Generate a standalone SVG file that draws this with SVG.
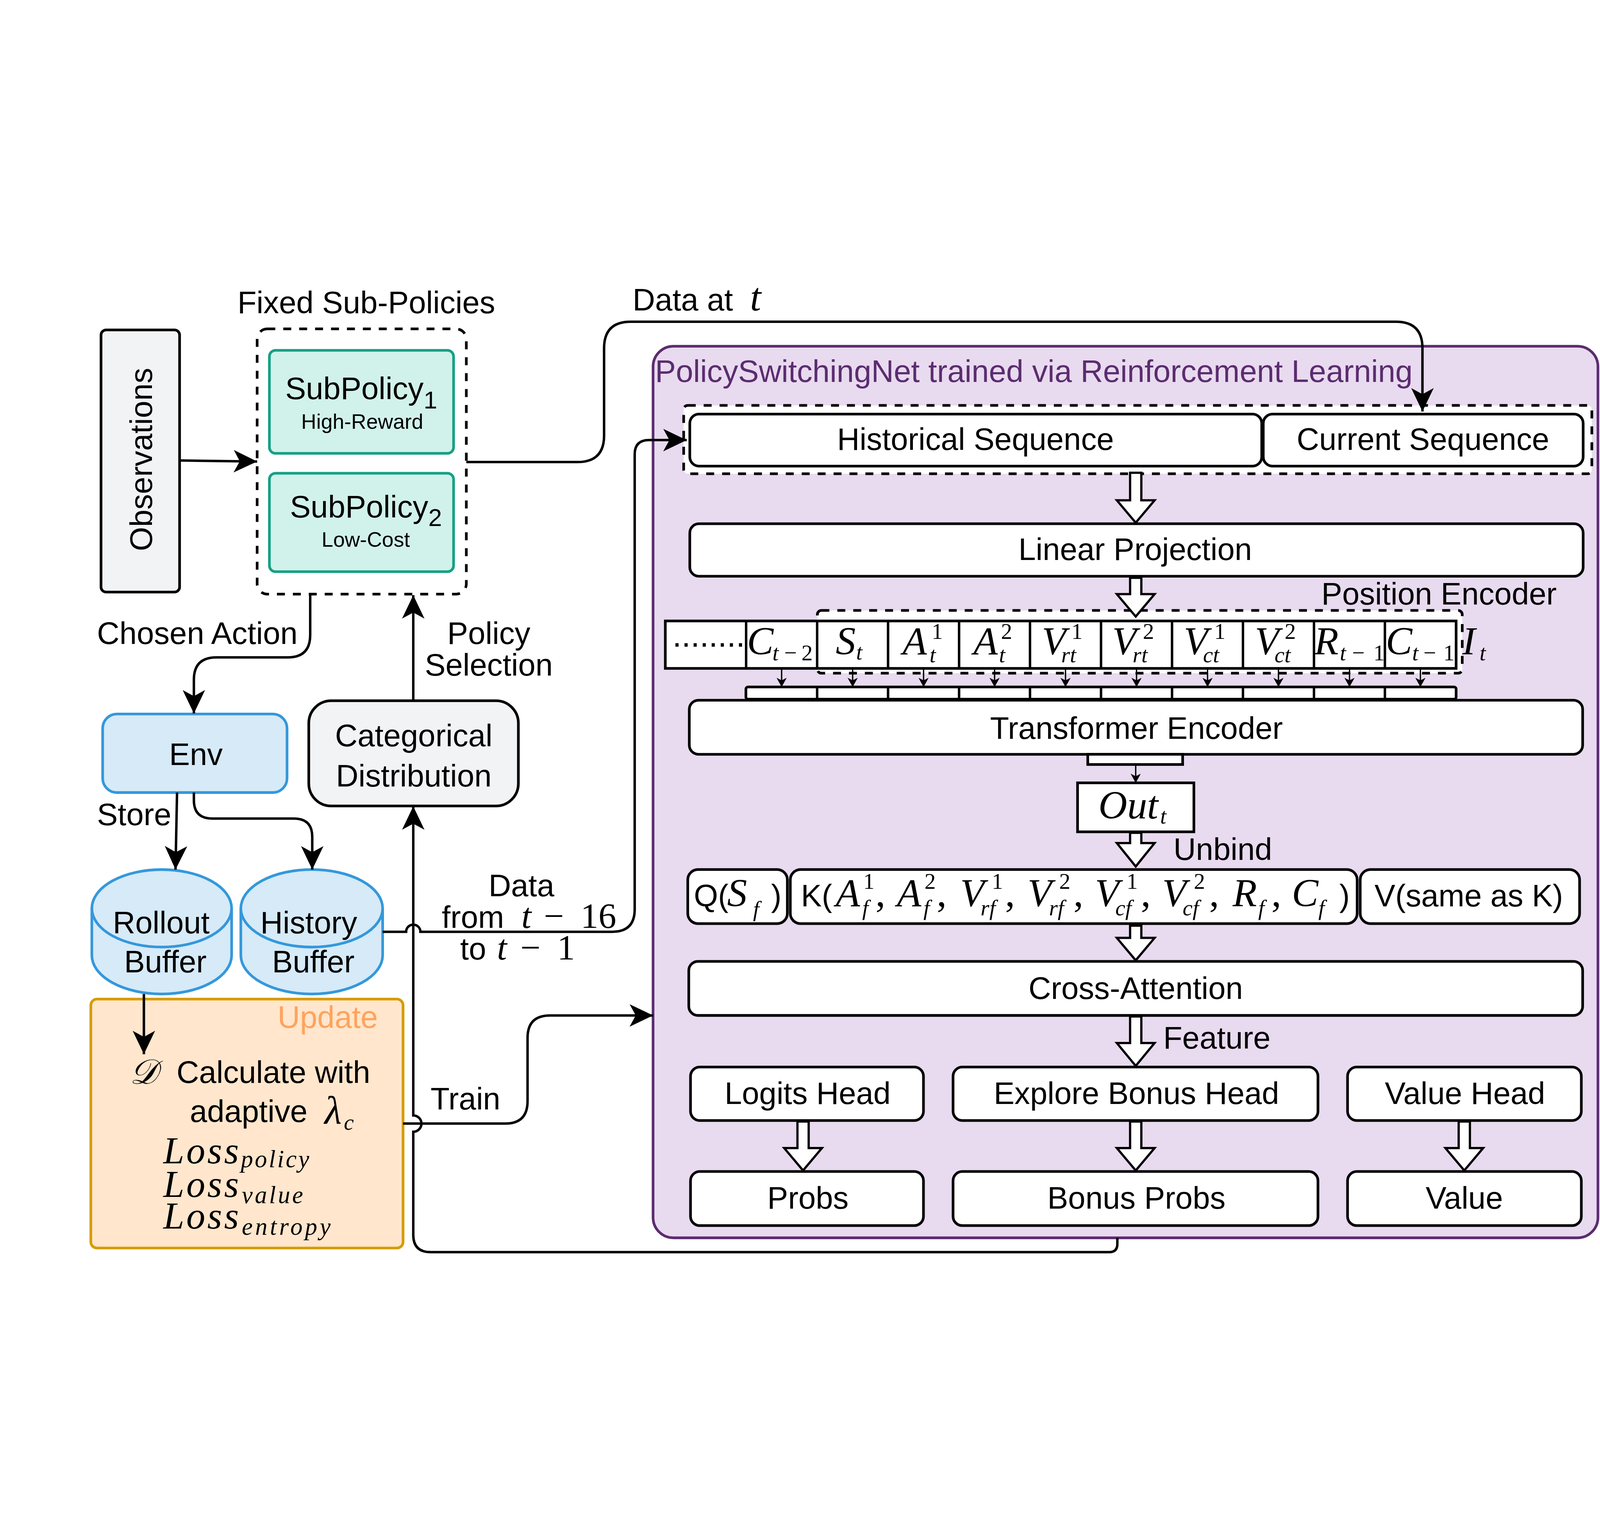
<svg xmlns="http://www.w3.org/2000/svg" width="6090" height="3900" viewBox="0 0 6090 3900">
<defs>
<style>
:root{background:#fff}
@media (max-width: 6080px), (max-height: 3890px){ :root{width:100vw;height:100vh} }
.s{font-family:"Liberation Sans",Arial,sans-serif;font-size:30.5px;fill:#000}
.mid{text-anchor:middle}
.sm{font-size:20.5px}
.sp{font-size:24px}
.m{font-family:"Liberation Serif","Times New Roman",serif;font-style:italic;font-size:39px;fill:#000}
.r{font-family:"Liberation Serif","Times New Roman",serif;font-style:normal;font-size:39px;fill:#000}
.sb{font-size:22px}
.lbl{font-size:35px}
.box{fill:#fff;stroke:#000;stroke-width:2.6}
.dash{fill:#fff;stroke:#000;stroke-width:2.6;stroke-dasharray:7.8 7.8}
.ln{fill:none;stroke:#000;stroke-width:2.4}
.sl{fill:none;stroke:#000;stroke-width:1.3}
.ha{fill:#fff;stroke:#000;stroke-width:2.2;stroke-linejoin:miter}
.gray{fill:#f2f3f4;stroke:#000;stroke-width:2.6}
.teal{fill:#d1f2eb;stroke:#16a085;stroke-width:2.6}
.blue{fill:#d6eaf8;stroke:#3498db;stroke-width:2.6}
</style>
<marker id="ah" viewBox="0 0 23 22" refX="23" refY="11" markerWidth="23" markerHeight="22" markerUnits="userSpaceOnUse" orient="auto">
<path d="M0,0 L23,11 L0,22 L6,11 Z" fill="#000"/>
</marker>
<marker id="sah" viewBox="0 0 9 10" refX="9" refY="5" markerWidth="9" markerHeight="10" markerUnits="userSpaceOnUse" orient="auto">
<path d="M0,0 L9,5 L0,10 L2.5,5 Z" fill="#000"/>
</marker>
</defs>
<rect width="6090" height="3900" fill="#fff"/>
<g transform="scale(3.88393)">

<g id="policy-switching-net">
<rect x="640" y="95" width="926" height="874" rx="20" fill="#e8daef" stroke="#5b2c6f" stroke-width="2.6"/>
<text class="s" x="642" y="130" style="fill:#5b2c6f">PolicySwitchingNet trained via Reinforcement Learning</text>
</g>

<g id="observations">
<rect x="99" y="79" width="77" height="257" rx="5" class="gray"/>
<text class="s mid" transform="translate(149,206) rotate(-90)">Observations</text>
</g>

<g id="fixed-sub-policies">
<rect x="252" y="78" width="205" height="260" rx="10" class="dash"/>
<text class="s mid" x="359" y="62.5">Fixed Sub-Policies</text>
</g>

<g id="subpolicy1">
<rect x="264" y="99" width="180.5" height="101" rx="6" class="teal"/>
<text class="s mid" x="354" y="147">SubPolicy<tspan class="sp" dy="9">1</tspan></text>
<text class="s mid sm" x="355" y="176">High-Reward</text>
</g>

<g id="subpolicy2">
<rect x="264" y="219.5" width="180.5" height="96.5" rx="6" class="teal"/>
<text class="s mid" x="358.6" y="262.8">SubPolicy<tspan class="sp" dy="8.5">2</tspan></text>
<text class="s mid sm" x="358.4" y="291.5">Low-Cost</text>
</g>

<g id="env">
<rect x="100.6" y="455.5" width="180.7" height="77" rx="14" class="blue"/>
<text class="s mid" x="192" y="505.5">Env</text>
</g>

<g id="categorical-distribution">
<rect x="302.6" y="442.5" width="205.4" height="103.2" rx="22" class="gray"/>
<text class="s mid" x="405.5" y="487">Categorical</text>
<text class="s mid" x="405.5" y="526.5">Distribution</text>
</g>

<g id="rollout-buffer">
<path d="M90,646 A68.5,38 0 0 1 227,646 V692 A68.5,38 0 0 1 90,692 Z" class="blue"/>
<path d="M90,646 A68.5,38 0 0 0 227,646" fill="none" stroke="#3498db" stroke-width="2.6"/>
<text class="s mid" x="158" y="670.5">Rollout</text>
<text class="s mid" x="162" y="708.6">Buffer</text>
</g>

<g id="history-buffer">
<path d="M236,646 A69.5,38 0 0 1 375,646 V692 A69.5,38 0 0 1 236,692 Z" class="blue"/>
<path d="M236,646 A69.5,38 0 0 0 375,646" fill="none" stroke="#3498db" stroke-width="2.6"/>
<text class="s mid" x="302.6" y="670.5">History</text>
<text class="s mid" x="307" y="708.6">Buffer</text>
</g>

<g id="update">
<rect x="89" y="735" width="306" height="244" rx="6" fill="#ffe6cc" stroke="#d79b00" stroke-width="2.6"/>
<text class="s" x="272" y="763" style="fill:#ffa35c">Update</text>
<text x="127" y="818" style="font-family:'DejaVu Serif','Liberation Serif',serif;font-style:italic;font-size:34px">𝒟</text>
<text class="s" x="173" y="817">Calculate with</text>
<text class="s" x="186" y="855.5">adaptive</text>
<text class="m" x="318" y="857">λ</text>
<text class="m sb" x="337" y="863">c</text>
<text class="m" x="160" y="896" style="font-size:37px" textLength="74" lengthAdjust="spacing">Loss</text>
<text class="m" x="236" y="900" style="font-size:24px" textLength="67" lengthAdjust="spacing">policy</text>
<text class="m" x="160" y="929" style="font-size:37px" textLength="74" lengthAdjust="spacing">Loss</text>
<text class="m" x="237" y="935" style="font-size:24px" textLength="60" lengthAdjust="spacing">value</text>
<text class="m" x="160" y="960" style="font-size:37px" textLength="74" lengthAdjust="spacing">Loss</text>
<text class="m" x="237" y="966" style="font-size:24px" textLength="87" lengthAdjust="spacing">entropy</text>
</g>

<g id="sequence-group">
<rect x="670" y="153" width="890" height="67" rx="4" class="dash"/>
</g>
<g id="historical-sequence">
<rect x="676" y="161.5" width="560.5" height="51" rx="9" class="box"/>
<text class="s mid" x="956" y="196.5">Historical Sequence</text>
</g>
<g id="current-sequence">
<rect x="1238" y="161.5" width="313.5" height="51" rx="9" class="box"/>
<text class="s mid" x="1394.5" y="196.5">Current Sequence</text>
</g>

<g id="linear-projection">
<rect x="676" y="269" width="875.5" height="51.5" rx="9" class="box"/>
<text class="s mid" x="1112.5" y="304.6">Linear Projection</text>
</g>

<g id="position-encoder">
<rect x="801" y="354" width="632" height="61.5" rx="4" class="dash"/>
<text class="s" x="1295" y="348.3">Position Encoder</text>
</g>

<g id="token-row">
<rect x="652" y="364.3" width="775" height="46.5" class="box"/>
<g stroke="#000" stroke-width="2.4">
<line x1="731.2" y1="364.3" x2="731.2" y2="410.8"/>
<line x1="800.8" y1="364.3" x2="800.8" y2="410.8"/>
<line x1="870.3" y1="364.3" x2="870.3" y2="410.8"/>
<line x1="939.9" y1="364.3" x2="939.9" y2="410.8"/>
<line x1="1009.4" y1="364.3" x2="1009.4" y2="410.8"/>
<line x1="1079" y1="364.3" x2="1079" y2="410.8"/>
<line x1="1148.6" y1="364.3" x2="1148.6" y2="410.8"/>
<line x1="1218.1" y1="364.3" x2="1218.1" y2="410.8"/>
<line x1="1287.7" y1="364.3" x2="1287.7" y2="410.8"/>
<line x1="1357.2" y1="364.3" x2="1357.2" y2="410.8"/>
</g>
<text class="s" x="659" y="389.5" style="font-size:32px">........</text>
<text class="m" x="732" y="397">C</text><text class="m sb" x="757" y="403">t</text><text class="r sb" x="768.5" y="403">−</text><text class="r sb" x="785.4" y="403">2</text>
<text class="m" x="819" y="397">S</text><text class="m sb" x="839" y="402">t</text>
<text class="m" x="884.5" y="397">A</text><text class="r sb" x="913" y="382">1</text><text class="m sb" x="911" y="405">t</text>
<text class="m" x="954" y="397">A</text><text class="r sb" x="981" y="382">2</text><text class="m sb" x="979" y="405">t</text>
<text class="m" x="1021" y="397">V</text><text class="r sb" x="1050" y="382">1</text><text class="m sb" x="1040" y="405">rt</text>
<text class="m" x="1090" y="397">V</text><text class="r sb" x="1120" y="382">2</text><text class="m sb" x="1110" y="405">rt</text>
<text class="m" x="1160" y="397">V</text><text class="r sb" x="1190" y="382">1</text><text class="m sb" x="1179" y="405">ct</text>
<text class="m" x="1229.7" y="397">V</text><text class="r sb" x="1259" y="382">2</text><text class="m sb" x="1249" y="405">ct</text>
<text class="m" x="1288" y="397">R</text><text class="m sb" x="1313" y="403">t</text><text class="r sb" x="1325" y="403">−</text><text class="r sb" x="1346" y="403">1</text>
<text class="m" x="1358" y="397">C</text><text class="m sb" x="1384" y="403">t</text><text class="r sb" x="1395" y="403">−</text><text class="r sb" x="1414.5" y="403">1</text>
<text class="m" x="1433" y="397">I</text><text class="m sb" x="1450" y="403">t</text>
</g>

<g id="embedding-row">
<rect x="731" y="429" width="696" height="12" rx="2" class="box"/>
<g stroke="#000" stroke-width="2.4">
<line x1="800.8" y1="429" x2="800.8" y2="441"/>
<line x1="870.3" y1="429" x2="870.3" y2="441"/>
<line x1="939.9" y1="429" x2="939.9" y2="441"/>
<line x1="1009.4" y1="429" x2="1009.4" y2="441"/>
<line x1="1079" y1="429" x2="1079" y2="441"/>
<line x1="1148.6" y1="429" x2="1148.6" y2="441"/>
<line x1="1218.1" y1="429" x2="1218.1" y2="441"/>
<line x1="1287.7" y1="429" x2="1287.7" y2="441"/>
<line x1="1357.2" y1="429" x2="1357.2" y2="441"/>
</g>
</g>

<g id="transformer-encoder">
<rect x="675.5" y="442" width="875.5" height="53" rx="9" class="box"/>
<text class="s mid" x="1113.7" y="480">Transformer Encoder</text>
<rect x="1066" y="495" width="93" height="10" class="box"/>
</g>

<g id="out">
<rect x="1056" y="523" width="114" height="48" class="box"/>
<text class="m" x="1076.5" y="558">Out</text><text class="m sb" x="1137" y="563">t</text>
</g>

<g id="q-box">
<rect x="674" y="608" width="97.6" height="53" rx="10" class="box"/>
<text class="s" x="680" y="644">Q(</text>
<text class="m" x="712.6" y="644">S</text><text class="m sb" x="738" y="654">f</text>
<text class="s" x="755.7" y="644">)</text>
</g>

<g id="k-box">
<rect x="774.5" y="608" width="555.5" height="53" rx="10" class="box"/>
<text class="s" x="785" y="644">K(</text>
<text class="m" x="819" y="644">A</text><text class="r sb" x="846" y="627">1</text><text class="m sb" x="845" y="653">f</text><text class="r" x="858" y="644">,</text>
<text class="m" x="879" y="644">A</text><text class="r sb" x="906" y="627">2</text><text class="m sb" x="905" y="653">f</text><text class="r" x="918" y="644">,</text>
<text class="m" x="941" y="644">V</text><text class="r sb" x="972" y="627">1</text><text class="m sb" x="961" y="653">rf</text><text class="r" x="985" y="644">,</text>
<text class="m" x="1007" y="644">V</text><text class="r sb" x="1038" y="627">2</text><text class="m sb" x="1028" y="653">rf</text><text class="r" x="1052" y="644">,</text>
<text class="m" x="1073" y="644">V</text><text class="r sb" x="1104" y="627">1</text><text class="m sb" x="1093" y="653">cf</text><text class="r" x="1118" y="644">,</text>
<text class="m" x="1139" y="644">V</text><text class="r sb" x="1170" y="627">2</text><text class="m sb" x="1159" y="653">cf</text><text class="r" x="1185" y="644">,</text>
<text class="m" x="1208" y="644">R</text><text class="m sb" x="1233" y="653">f</text><text class="r" x="1246" y="644">,</text>
<text class="m" x="1266" y="644">C</text><text class="m sb" x="1292" y="653">f</text>
<text class="s" x="1312.6" y="644">)</text>
</g>

<g id="v-box">
<rect x="1333" y="608" width="215" height="53" rx="10" class="box"/>
<text class="s mid" x="1439.4" y="644">V(same as K)</text>
</g>

<g id="cross-attention">
<rect x="675" y="698" width="876" height="53" rx="9" class="box"/>
<text class="s mid" x="1113" y="734.7">Cross-Attention</text>
</g>

<g id="logits-head">
<rect x="676.7" y="801.6" width="228.3" height="52.4" rx="9" class="box"/>
<text class="s mid" x="791.5" y="837.8">Logits Head</text>
</g>
<g id="explore-bonus-head">
<rect x="934" y="801.6" width="357.6" height="52.4" rx="9" class="box"/>
<text class="s mid" x="1113.7" y="837.8">Explore Bonus Head</text>
</g>
<g id="value-head">
<rect x="1320.6" y="801.6" width="229.1" height="52.4" rx="9" class="box"/>
<text class="s mid" x="1435.7" y="837.8">Value Head</text>
</g>

<g id="probs">
<rect x="676.7" y="904" width="228.3" height="53" rx="9" class="box"/>
<text class="s mid" x="791.8" y="940.4">Probs</text>
</g>
<g id="bonus-probs">
<rect x="934" y="904" width="357.6" height="53" rx="9" class="box"/>
<text class="s mid" x="1113.7" y="940.4">Bonus Probs</text>
</g>
<g id="value">
<rect x="1320.6" y="904" width="229.1" height="53" rx="9" class="box"/>
<text class="s mid" x="1435" y="940.4">Value</text>
</g>

<g id="connectors">
<path class="ln" d="M176,207 L252,208" marker-end="url(#ah)"/>
<path class="ln" d="M457,208.5 L566,208.5 Q592,208.5 592,182.5 L592,97 Q592,71 618,71 L1368,71 Q1394,71 1394,97 L1394,159" marker-end="url(#ah)"/>
<path class="ln" d="M304,338 L304,378 Q304,400 282,400 L212,400 Q190,400 190,422 L190,455" marker-end="url(#ah)"/>
<path class="ln" d="M405,442.5 L405,339" marker-end="url(#ah)"/>
<path class="ln" d="M173.5,532.5 L172,608" marker-end="url(#ah)"/>
<path class="ln" d="M190,532.5 L190,540 Q190,558 208,558 L288,558 Q306,558 306,576 L306,608" marker-end="url(#ah)"/>
<path class="ln" d="M141,730 L141,789" marker-end="url(#ah)"/>
<path class="ln" d="M375,669 L398,669 A7,7 0 0 1 412,669 L600,669 Q622,669 622,647 L622,201 Q622,187 636,187 L673,187" marker-end="url(#ah)"/>
<path class="ln" d="M395,857 L495,857 Q517,857 517,835 L517,773 Q517,751 539,751 L640,751" marker-end="url(#ah)"/>
<path class="ln" d="M1095,969 L1095,975 Q1095,983 1087,983 L422,983 Q405,983 405,966 L405,865 A8,8 0 0 0 405,849 L405,546" marker-end="url(#ah)"/>

<path class="sl" d="M766,411 L766,429" marker-end="url(#sah)"/>
<path class="sl" d="M835.6,411 L835.6,429" marker-end="url(#sah)"/>
<path class="sl" d="M905.1,411 L905.1,429" marker-end="url(#sah)"/>
<path class="sl" d="M974.7,411 L974.7,429" marker-end="url(#sah)"/>
<path class="sl" d="M1044.2,411 L1044.2,429" marker-end="url(#sah)"/>
<path class="sl" d="M1113.8,411 L1113.8,429" marker-end="url(#sah)"/>
<path class="sl" d="M1183.4,411 L1183.4,429" marker-end="url(#sah)"/>
<path class="sl" d="M1252.9,411 L1252.9,429" marker-end="url(#sah)"/>
<path class="sl" d="M1322.5,411 L1322.5,429" marker-end="url(#sah)"/>
<path class="sl" d="M1392,411 L1392,429" marker-end="url(#sah)"/>
<path class="sl" d="M1113,505 L1113,523" marker-end="url(#sah)"/>

<path class="ha" d="M1107.5,219 H1118.5 V246 H1131.5 L1113,268 L1094.5,246 H1107.5 Z"/>
<path class="ha" d="M1107.5,322 H1118.5 V338 H1131.5 L1113,360 L1094.5,338 H1107.5 Z"/>
<path class="ha" d="M1107.5,572 H1118.5 V582 H1131.5 L1113,605 L1094.5,582 H1107.5 Z"/>
<path class="ha" d="M1107.5,663 H1118.5 V675 H1131.5 L1113,697 L1094.5,675 H1107.5 Z"/>
<path class="ha" d="M1107.5,752 H1118.5 V778 H1131.5 L1113,800.5 L1094.5,778 H1107.5 Z"/>
<path class="ha" d="M781.5,855 H792.5 V881 H805.5 L787,903 L768.5,881 H781.5 Z"/>
<path class="ha" d="M1107.5,855 H1118.5 V881 H1131.5 L1113,903 L1094.5,881 H1107.5 Z"/>
<path class="ha" d="M1429.5,855 H1440.5 V881 H1453.5 L1435,903 L1416.5,881 H1429.5 Z"/>

<text class="s" x="95" y="387">Chosen Action</text>
<text class="s mid" x="479" y="387">Policy</text>
<text class="s mid" x="479" y="418">Selection</text>
<text class="s" x="95" y="564.6">Store</text>
<text class="s" x="620" y="60">Data at</text><text class="m" x="735" y="60">t</text>
<text class="s mid" x="511" y="634">Data</text>
<text class="s" x="433" y="665">from</text>
<text class="m lbl" x="511" y="665">t</text><text class="r lbl" x="533" y="665">−</text><text class="r lbl" x="569" y="665">16</text>
<text class="s" x="451" y="696">to</text>
<text class="m lbl" x="487" y="696">t</text><text class="r lbl" x="510" y="696">−</text><text class="r lbl" x="546" y="696">1</text>
<text class="s" x="422" y="843">Train</text>
<text class="s" x="1150" y="598.5">Unbind</text>
<text class="s" x="1140" y="783.6">Feature</text>
</g>

</g>
</svg>
